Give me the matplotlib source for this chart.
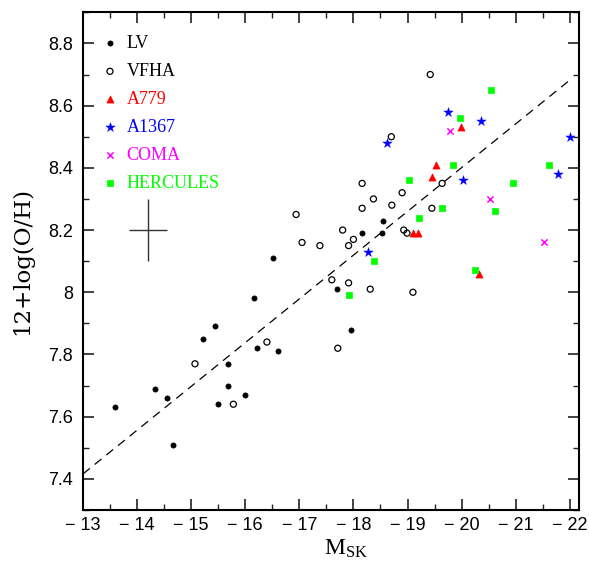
import matplotlib
matplotlib.use("Agg")
import matplotlib.pyplot as plt
from matplotlib.ticker import MultipleLocator, FuncFormatter
import numpy as np

# ---- data ----
lv_x = [-13.60, -14.34, -14.56, -14.67, -15.22, -15.68, -15.68, -15.50, -16.00, -16.22,
        -16.60, -15.44, -16.17, -16.51, -17.69, -17.96, -18.16, -18.53, -18.55]
lv_y = [7.63, 7.69, 7.66, 7.51, 7.85, 7.77, 7.70, 7.64, 7.67, 7.82,
        7.81, 7.89, 7.98, 8.11, 8.01, 7.88, 8.19, 8.19, 8.23]

vfha_x = [-16.94, -17.05, -17.38, -17.60, -16.40, -17.71, -15.07, -15.78, -17.91, -18.00,
          -17.91, -18.31, -19.10, -19.42, -18.70, -18.16, -18.37, -18.16, -18.71, -18.90,
          -19.64, -19.45, -17.80, -18.93, -18.99]
vfha_y = [8.25, 8.16, 8.15, 8.04, 7.84, 7.82, 7.77, 7.64, 8.15, 8.17,
          8.03, 8.01, 8.00, 8.70, 8.50, 8.35, 8.30, 8.27, 8.28, 8.32,
          8.35, 8.27, 8.20, 8.20, 8.19]

a779_x = [-19.98, -19.52, -19.46, -19.10, -19.19, -20.33]
a779_y = [8.53, 8.41, 8.37, 8.19, 8.19, 8.06]

a1367_x = [-19.75, -20.36, -22.00, -18.62, -20.02, -21.79, -18.26]
a1367_y = [8.58, 8.55, 8.50, 8.48, 8.36, 8.38, 8.13]

coma_x = [-19.79, -20.52, -21.52]
coma_y = [8.52, 8.30, 8.16]

herc_x = [-20.54, -19.97, -19.84, -21.61, -19.02, -20.95, -19.64, -20.62, -19.22,
          -18.38, -20.24, -17.91]
herc_y = [8.65, 8.56, 8.41, 8.41, 8.36, 8.35, 8.27, 8.26, 8.24,
          8.10, 8.07, 7.99]

fit_x = [-13.0, -22.0]
fit_y = [7.416, 8.682]

err_x, err_y = -14.2, 8.2
err_dx, err_dy = 0.35, 0.10

names = ["LV", "VFHA", "A779", "A1367", "COMA", "HERCULES"]
colors = ["black", "black", "#ff0000", "#0000ff", "#ff00ff", "#00ff00"]

# ---- figure ----
fig = plt.figure(figsize=(5.89, 5.66), dpi=100)
ax = fig.add_axes([83/589, 1 - 510/566, 496/589, (510 - 12.3)/566])

styles = [
    dict(marker="o", s=14, facecolors="black", edgecolors="black", linewidths=0.5),
    dict(marker="o", s=19, facecolors="none", edgecolors="black", linewidths=0.9),
    dict(marker="^", s=26, facecolors="#ff0000", edgecolors="#ff0000", linewidths=0.5),
    dict(marker="*", s=50, facecolors="#0000ff", edgecolors="#0000ff", linewidths=0.3),
    dict(marker="x", s=20, color="#ff00ff", linewidths=1.1),
    dict(marker="s", s=20, facecolors="#00ff00", edgecolors="#00ff00", linewidths=0.5),
]
series = [(lv_x, lv_y), (vfha_x, vfha_y), (a779_x, a779_y), (a1367_x, a1367_y),
          (coma_x, coma_y), (herc_x, herc_y)]

ax.plot(fit_x, fit_y, color="black", lw=0.9, dashes=(7, 5))

for (xs, ys), st in zip(series, styles):
    ax.scatter(xs, ys, zorder=3, clip_on=False, **st)

ax.errorbar([err_x], [err_y], xerr=[err_dx], yerr=[err_dy], fmt="none",
            ecolor="#333333", elinewidth=1.0, capsize=0)

# manual legend
lx_m, lx_t = 0.0544, 0.088
ly0, dly = 0.9377, 0.0563
for i, (nm, c, st) in enumerate(zip(names, colors, styles)):
    y = ly0 - i * dly
    ax.scatter([lx_m], [y], transform=ax.transAxes, clip_on=False, **st)
    ax.text(lx_t, y, nm, transform=ax.transAxes, color=c, va="center", ha="left",
            fontsize=13, family="Liberation Serif")

ax.set_xlim(-13, -22.17)
ax.set_ylim(7.3, 8.9)

ax.xaxis.set_major_locator(MultipleLocator(1))
ax.xaxis.set_minor_locator(MultipleLocator(0.5))
ax.yaxis.set_major_locator(MultipleLocator(0.2))
ax.yaxis.set_minor_locator(MultipleLocator(0.1))

def xfmt(v, pos):
    return "\u2212 %d" % round(-v) if v < 0 else "%d" % round(v)

def yfmt(v, pos):
    s = "%.1f" % v
    if s.endswith(".0"):
        s = s[:-2]
    return s

ax.xaxis.set_major_formatter(FuncFormatter(xfmt))
ax.yaxis.set_major_formatter(FuncFormatter(yfmt))

ax.tick_params(which="both", direction="in", top=True, right=True, color="#222222")
ax.tick_params(which="major", length=8, width=1.2)
ax.tick_params(which="minor", length=4.3, width=1.0)
ax.tick_params(axis="x", which="major", pad=5)
ax.tick_params(axis="y", which="major", pad=7)
for lab in ax.get_xticklabels() + ax.get_yticklabels():
    lab.set_family("Liberation Sans")
    lab.set_fontsize(13)

for sp in ax.spines.values():
    sp.set_linewidth(1.5)

ax.set_ylabel("12+log(O/H)", family="DejaVu Serif", fontsize=16.5, va="center")
ax.yaxis.set_label_coords(-0.123, 0.5)
ax.set_xlabel(r"$\mathregular{M_{SK}}$", family="Liberation Serif", fontsize=17,
              va="baseline")
ax.xaxis.set_label_coords(0.530, -0.0904)

fig.savefig("out.png", dpi=100)
